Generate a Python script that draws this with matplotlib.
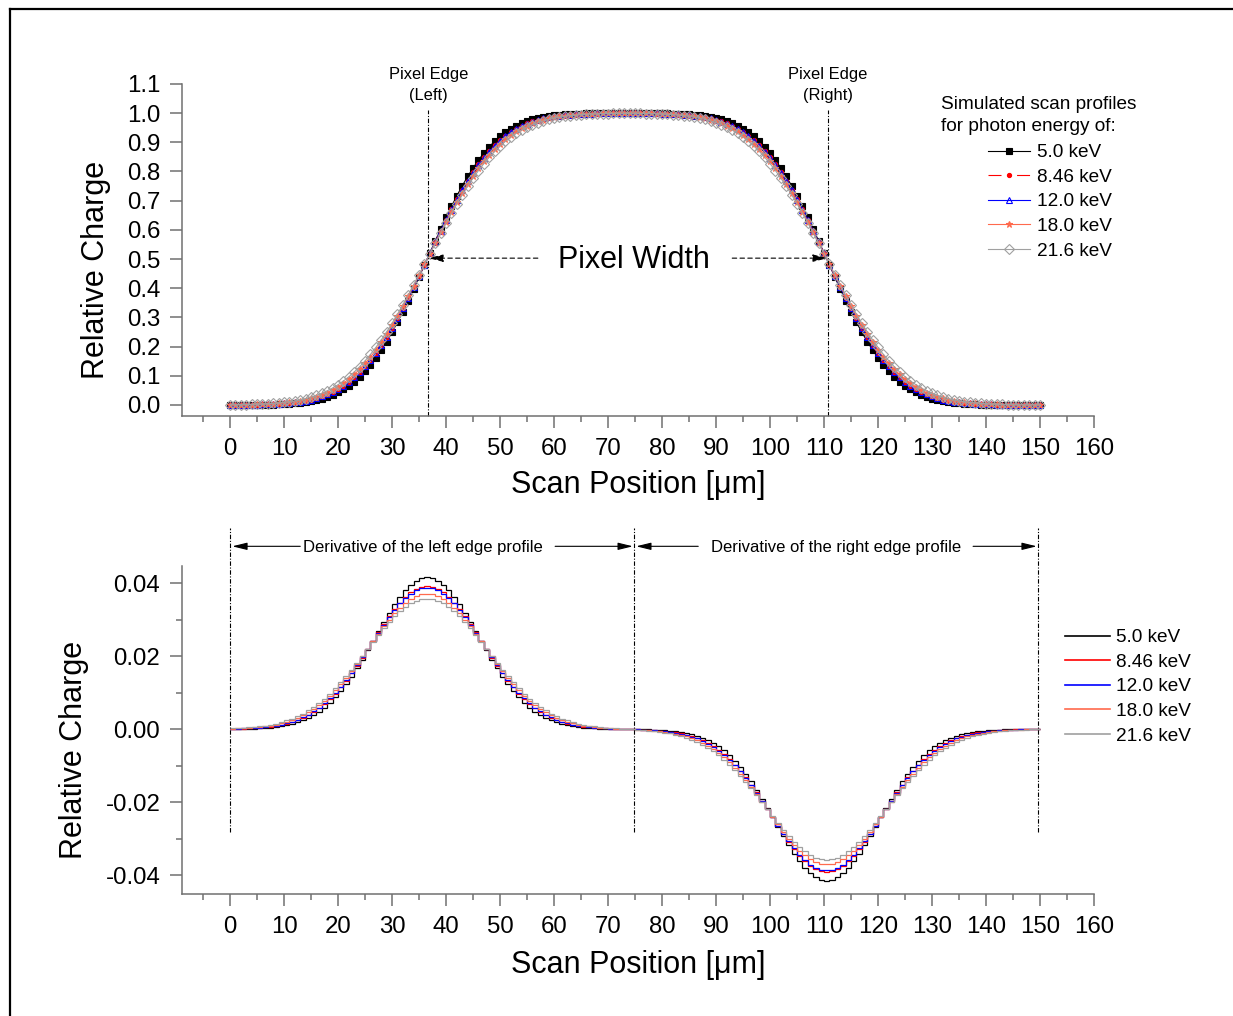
import numpy as np
import matplotlib
matplotlib.use("Agg")
import matplotlib.pyplot as plt
from matplotlib.lines import Line2D
from matplotlib.ticker import MultipleLocator, FormatStrFormatter

plt.rcParams['font.family'] = ['Liberation Sans', 'DejaVu Sans']
plt.rcParams['axes.unicode_minus'] = False

energies = ['5.0 keV', '8.46 keV', '12.0 keV', '18.0 keV', '21.6 keV']

# scan runs from 0 to 150 um in 1 um steps
scan_start, scan_stop = 0, 150

# relative charge at the first scan position
start_charge = [0.0, 0.0001, 0.0002, 0.0003, 0.0005]

# change of relative charge per 1 um step (derivative of the profile)
# left edge part: steps 0..74 um, right edge part: steps 74..150 um
d50_left = [0.00004, 0.00005, 0.00008, 0.00011, 0.00016, 0.00023, 0.00032, 0.00043, 0.00059, 0.00080,
            0.00106, 0.00140, 0.00183, 0.00236, 0.00301, 0.00380, 0.00474, 0.00586, 0.00717, 0.00866,
            0.01036, 0.01226, 0.01435, 0.01661, 0.01903, 0.02156, 0.02416, 0.02678, 0.02937, 0.03186,
            0.03419, 0.03629, 0.03810, 0.03958, 0.04067, 0.04134, 0.04156, 0.04134, 0.04067, 0.03958,
            0.03810, 0.03629, 0.03419, 0.03186, 0.02937, 0.02678, 0.02416, 0.02156, 0.01903, 0.01661,
            0.01435, 0.01226, 0.01036, 0.00866, 0.00717, 0.00586, 0.00474, 0.00380, 0.00301, 0.00236,
            0.00183, 0.00140, 0.00106, 0.00080, 0.00059, 0.00043, 0.00032, 0.00023, 0.00016, 0.00011,
            0.00008, 0.00004, 0.00003, 0.0]
d50_right = [-0.00003, -0.00004, -0.00008, -0.00011, -0.00016, -0.00023, -0.00032, -0.00043, -0.00059, -0.00080,
             -0.00106, -0.00140, -0.00183, -0.00236, -0.00301, -0.00380, -0.00474, -0.00586, -0.00717, -0.00866,
             -0.01036, -0.01226, -0.01435, -0.01661, -0.01903, -0.02156, -0.02416, -0.02678, -0.02937, -0.03186,
             -0.03419, -0.03629, -0.03810, -0.03958, -0.04067, -0.04134, -0.04156, -0.04134, -0.04067, -0.03958,
             -0.03810, -0.03629, -0.03419, -0.03186, -0.02937, -0.02678, -0.02416, -0.02156, -0.01903, -0.01661,
             -0.01435, -0.01226, -0.01036, -0.00866, -0.00717, -0.00586, -0.00474, -0.00380, -0.00301, -0.00236,
             -0.00183, -0.00140, -0.00106, -0.00080, -0.00059, -0.00043, -0.00032, -0.00023, -0.00016, -0.00011,
             -0.00008, -0.00005, -0.00004, -0.00002, -0.00001, -0.00001]

d846_left = [0.00008, 0.00011, 0.00015, 0.00021, 0.00029, 0.00039, 0.00052, 0.00069, 0.00090, 0.00118,
             0.00152, 0.00194, 0.00246, 0.00308, 0.00382, 0.00470, 0.00572, 0.00690, 0.00824, 0.00975,
             0.01143, 0.01326, 0.01525, 0.01736, 0.01958, 0.02187, 0.02419, 0.02650, 0.02876, 0.03091,
             0.03290, 0.03468, 0.03622, 0.03746, 0.03837, 0.03893, 0.03911, 0.03893, 0.03837, 0.03746,
             0.03622, 0.03468, 0.03290, 0.03091, 0.02876, 0.02650, 0.02419, 0.02187, 0.01958, 0.01736,
             0.01525, 0.01326, 0.01143, 0.00975, 0.00824, 0.00690, 0.00572, 0.00470, 0.00382, 0.00308,
             0.00246, 0.00194, 0.00152, 0.00118, 0.00090, 0.00069, 0.00052, 0.00039, 0.00028, 0.00020,
             0.00013, 0.00008, 0.00004, 0.0]
d846_right = [-0.00004, -0.00008, -0.00013, -0.00020, -0.00028, -0.00039, -0.00052, -0.00069, -0.00090, -0.00118,
              -0.00152, -0.00194, -0.00246, -0.00308, -0.00382, -0.00470, -0.00572, -0.00690, -0.00824, -0.00975,
              -0.01143, -0.01326, -0.01525, -0.01736, -0.01958, -0.02187, -0.02419, -0.02650, -0.02876, -0.03091,
              -0.03290, -0.03468, -0.03622, -0.03746, -0.03837, -0.03893, -0.03911, -0.03893, -0.03837, -0.03746,
              -0.03622, -0.03468, -0.03290, -0.03091, -0.02876, -0.02650, -0.02419, -0.02187, -0.01958, -0.01736,
              -0.01525, -0.01326, -0.01143, -0.00975, -0.00824, -0.00690, -0.00572, -0.00470, -0.00382, -0.00308,
              -0.00246, -0.00194, -0.00152, -0.00118, -0.00090, -0.00069, -0.00052, -0.00039, -0.00029, -0.00021,
              -0.00015, -0.00011, -0.00008, -0.00005, -0.00004, -0.00003]

d120_left = [0.00009, 0.00012, 0.00017, 0.00023, 0.00031, 0.00042, 0.00056, 0.00074, 0.00096, 0.00125,
             0.00160, 0.00204, 0.00257, 0.00320, 0.00396, 0.00485, 0.00588, 0.00707, 0.00841, 0.00992,
             0.01159, 0.01341, 0.01538, 0.01747, 0.01965, 0.02190, 0.02418, 0.02644, 0.02865, 0.03075,
             0.03269, 0.03443, 0.03592, 0.03712, 0.03801, 0.03855, 0.03873, 0.03855, 0.03801, 0.03712,
             0.03592, 0.03443, 0.03269, 0.03075, 0.02865, 0.02644, 0.02418, 0.02190, 0.01965, 0.01747,
             0.01538, 0.01341, 0.01159, 0.00992, 0.00841, 0.00707, 0.00588, 0.00485, 0.00396, 0.00320,
             0.00257, 0.00204, 0.00160, 0.00125, 0.00096, 0.00074, 0.00056, 0.00042, 0.00030, 0.00022,
             0.00015, 0.00009, 0.00005, 0.0]
d120_right = [-0.00005, -0.00009, -0.00015, -0.00022, -0.00030, -0.00042, -0.00056, -0.00074, -0.00096, -0.00125,
              -0.00160, -0.00204, -0.00257, -0.00320, -0.00396, -0.00485, -0.00588, -0.00707, -0.00841, -0.00992,
              -0.01159, -0.01341, -0.01538, -0.01747, -0.01965, -0.02190, -0.02418, -0.02644, -0.02865, -0.03075,
              -0.03269, -0.03443, -0.03592, -0.03712, -0.03801, -0.03855, -0.03873, -0.03855, -0.03801, -0.03712,
              -0.03592, -0.03443, -0.03269, -0.03075, -0.02865, -0.02644, -0.02418, -0.02190, -0.01965, -0.01747,
              -0.01538, -0.01341, -0.01159, -0.00992, -0.00841, -0.00707, -0.00588, -0.00485, -0.00396, -0.00320,
              -0.00257, -0.00204, -0.00160, -0.00125, -0.00096, -0.00074, -0.00056, -0.00042, -0.00031, -0.00023,
              -0.00017, -0.00012, -0.00009, -0.00006, -0.00004, -0.00003]

d180_left = [0.00014, 0.00019, 0.00025, 0.00033, 0.00044, 0.00058, 0.00076, 0.00098, 0.00125, 0.00158,
             0.00199, 0.00248, 0.00307, 0.00376, 0.00457, 0.00551, 0.00657, 0.00778, 0.00914, 0.01063,
             0.01226, 0.01402, 0.01589, 0.01786, 0.01990, 0.02199, 0.02408, 0.02614, 0.02813, 0.03002,
             0.03176, 0.03331, 0.03463, 0.03569, 0.03647, 0.03695, 0.03711, 0.03695, 0.03647, 0.03569,
             0.03463, 0.03331, 0.03176, 0.03002, 0.02813, 0.02614, 0.02408, 0.02199, 0.01990, 0.01786,
             0.01589, 0.01402, 0.01226, 0.01063, 0.00914, 0.00778, 0.00657, 0.00551, 0.00457, 0.00376,
             0.00307, 0.00248, 0.00199, 0.00158, 0.00125, 0.00098, 0.00076, 0.00057, 0.00042, 0.00030,
             0.00021, 0.00014, 0.00007, 0.0]
d180_right = [-0.00007, -0.00014, -0.00021, -0.00030, -0.00042, -0.00057, -0.00076, -0.00098, -0.00125, -0.00158,
              -0.00199, -0.00248, -0.00307, -0.00376, -0.00457, -0.00551, -0.00657, -0.00778, -0.00914, -0.01063,
              -0.01226, -0.01402, -0.01589, -0.01786, -0.01990, -0.02199, -0.02408, -0.02614, -0.02813, -0.03002,
              -0.03176, -0.03331, -0.03463, -0.03569, -0.03647, -0.03695, -0.03711, -0.03695, -0.03647, -0.03569,
              -0.03463, -0.03331, -0.03176, -0.03002, -0.02813, -0.02614, -0.02408, -0.02199, -0.01990, -0.01786,
              -0.01589, -0.01402, -0.01226, -0.01063, -0.00914, -0.00778, -0.00657, -0.00551, -0.00457, -0.00376,
              -0.00307, -0.00248, -0.00199, -0.00158, -0.00125, -0.00098, -0.00076, -0.00058, -0.00044, -0.00033,
              -0.00025, -0.00019, -0.00014, -0.00010, -0.00007, -0.00005]

d216_left = [0.00020, 0.00026, 0.00034, 0.00045, 0.00058, 0.00075, 0.00096, 0.00122, 0.00153, 0.00191,
             0.00236, 0.00290, 0.00353, 0.00426, 0.00511, 0.00607, 0.00716, 0.00838, 0.00972, 0.01119,
             0.01278, 0.01448, 0.01627, 0.01813, 0.02005, 0.02199, 0.02393, 0.02583, 0.02766, 0.02938,
             0.03096, 0.03236, 0.03355, 0.03451, 0.03521, 0.03564, 0.03578, 0.03564, 0.03521, 0.03451,
             0.03355, 0.03236, 0.03096, 0.02938, 0.02766, 0.02583, 0.02393, 0.02199, 0.02005, 0.01813,
             0.01627, 0.01448, 0.01278, 0.01119, 0.00972, 0.00838, 0.00716, 0.00607, 0.00511, 0.00426,
             0.00353, 0.00290, 0.00236, 0.00191, 0.00153, 0.00121, 0.00094, 0.00073, 0.00055, 0.00041,
             0.00028, 0.00018, 0.00009, 0.0]
d216_right = [-0.00009, -0.00018, -0.00028, -0.00041, -0.00055, -0.00073, -0.00094, -0.00121, -0.00153, -0.00191,
              -0.00236, -0.00290, -0.00353, -0.00426, -0.00511, -0.00607, -0.00716, -0.00838, -0.00972, -0.01119,
              -0.01278, -0.01448, -0.01627, -0.01813, -0.02005, -0.02199, -0.02393, -0.02583, -0.02766, -0.02938,
              -0.03096, -0.03236, -0.03355, -0.03451, -0.03521, -0.03564, -0.03578, -0.03564, -0.03521, -0.03451,
              -0.03355, -0.03236, -0.03096, -0.02938, -0.02766, -0.02583, -0.02393, -0.02199, -0.02005, -0.01813,
              -0.01627, -0.01448, -0.01278, -0.01119, -0.00972, -0.00838, -0.00716, -0.00607, -0.00511, -0.00426,
              -0.00353, -0.00290, -0.00236, -0.00191, -0.00153, -0.00122, -0.00096, -0.00075, -0.00058, -0.00045,
              -0.00034, -0.00026, -0.00020, -0.00015, -0.00011, -0.00008]

left_parts = [d50_left, d846_left, d120_left, d180_left, d216_left]
right_parts = [d50_right, d846_right, d120_right, d180_right, d216_right]

# pixel edges and section borders (um)
edge_left, edge_right = 36.7, 110.7
section_borders = [0, 74.8, 149.6]

# styles
colors = ['black', '#ff0000', '#0000ff', '#ff6a4d', '#a0a0a0']
markers = ['s', 'o', '^', '*', 'D']
msizes = [3.8, 3.0, 4.6, 4.6, 5.4]
mfaces = ['black', '#ff0000', 'none', '#ff6a4d', 'none']
lstyles = ['-', (0, (11.7, 14.0)), '-', '-', '-']
grey = '#707070'

fig = plt.figure(figsize=(12.33, 10.16), dpi=100)
ax1 = fig.add_axes([0.1476, 0.5906, 0.7397, 0.3268])
ax2 = fig.add_axes([0.1476, 0.1201, 0.7397, 0.3228])

pos = np.arange(scan_start, scan_stop + 1)
profile_handles = []
for k in range(len(energies)):
    slope = np.concatenate([left_parts[k], right_parts[k]])
    prof = np.concatenate([[start_charge[k]], start_charge[k] + np.cumsum(slope)])
    h, = ax1.plot(pos, prof, color=colors[k], lw=0.8, ls=lstyles[k], marker=markers[k],
                  ms=msizes[k], mfc=mfaces[k], mec=colors[k], mew=0.8, label=energies[k])
    profile_handles.append(h)
    ax2.stairs(slope, pos, baseline=None, color=colors[k], lw=0.9)

for ax in (ax1, ax2):
    for s in ('top', 'right'):
        ax.spines[s].set_visible(False)
    for s in ('left', 'bottom'):
        ax.spines[s].set_color(grey)
        ax.spines[s].set_linewidth(1.1)
    ax.set_xlim(-8.9, 160)
    ax.xaxis.set_major_locator(MultipleLocator(10))
    ax.xaxis.set_minor_locator(MultipleLocator(5))
    ax.tick_params(which='major', length=8.6, width=1.1, color=grey, labelsize=17.3, pad=7)
    ax.tick_params(which='minor', length=4.3, width=1.1, color=grey)
    ax.set_xlabel('Scan Position [\u03bcm]', fontsize=22)
    ax.set_ylabel('Relative Charge', fontsize=22)
    ax.patch.set_visible(False)

ax1.set_ylim(-0.0377, 1.1)
ax1.set_yticks(np.arange(0, 1.11, 0.1))
ax1.yaxis.set_major_formatter(FormatStrFormatter('%.1f'))
ax1.xaxis.set_label_coords(0.5, -0.163)
ax1.yaxis.set_label_coords(-0.078, 0.44)

ax2.set_ylim(-0.0452, 0.0447)
ax2.set_yticks([-0.04, -0.02, 0.0, 0.02, 0.04])
ax2.yaxis.set_minor_locator(MultipleLocator(0.01))
ax2.yaxis.set_major_formatter(FormatStrFormatter('%.2f'))
ax2.xaxis.set_label_coords(0.5, -0.170)
ax2.yaxis.set_label_coords(-0.102, 0.439)

dashdot = (0, (4, 1.5, 1, 1.5))

# top panel annotations
for x, txt in ((edge_left, 'Pixel Edge\n(Left)'), (edge_right, 'Pixel Edge\n(Right)')):
    ax1.plot([x, x], [-0.0377, 1.01], color='black', lw=0.8, ls=dashdot, clip_on=False)
    ax1.text(x, 1.035, txt, ha='center', va='bottom', fontsize=11.9, linespacing=1.5)

ax1.text(74.8, 0.469, 'Pixel Width', ha='center', va='baseline', fontsize=22)
arrow_kw = dict(arrowstyle='-|>,head_length=0.9,head_width=0.22', color='black', lw=0.8,
                shrinkA=0, shrinkB=0)
ax1.annotate('', xy=(edge_left, 0.503), xytext=(57.0, 0.503),
             arrowprops=dict(arrow_kw, ls=(0, (4, 3))))
ax1.annotate('', xy=(edge_right, 0.503), xytext=(93.0, 0.503),
             arrowprops=dict(arrow_kw, ls=(0, (4, 3))))

# bottom panel annotations
for x in section_borders:
    ax2.plot([x, x], [-0.0282, 0.0551], color='black', lw=0.8, ls=dashdot, clip_on=False)
ax2.text(35.7, 0.0486, 'Derivative of the left edge profile', ha='center', va='baseline', fontsize=12)
ax2.text(112.2, 0.0486, 'Derivative of the right edge profile', ha='center', va='baseline', fontsize=12)
for tail, tip in ((13.0, 0.4), (60.2, 74.6), (86.7, 75.2), (137.6, 149.4)):
    ax2.annotate('', xy=(tip, 0.0501), xytext=(tail, 0.0501),
                 arrowprops=arrow_kw, annotation_clip=False)

# legends
fig.text(941 / 1233, 1 - 115.5 / 1016, 'Simulated scan profiles\nfor photon energy of:',
         ha='left', va='center', fontsize=13.7, linespacing=1.45)
ax1.legend(handles=profile_handles, loc='upper left', bbox_to_anchor=(988 / 1233, 1 - 144 / 1016),
           bbox_transform=fig.transFigure, frameon=False, fontsize=13.7, borderpad=0,
           borderaxespad=0, handlelength=2.2, handletextpad=0.35, labelspacing=0.38)

line_handles = [Line2D([], [], color=c, lw=1.2) for c in colors]
ax2.legend(line_handles, energies, loc='upper left', bbox_to_anchor=(1065 / 1233, 1 - 629 / 1016),
           bbox_transform=fig.transFigure, frameon=False, fontsize=13.7, borderpad=0,
           borderaxespad=0, handlelength=2.37, handletextpad=0.3, labelspacing=0.38)

# outer frame
fig.add_artist(Line2D([10 / 1233, 10 / 1233], [0, 1 - 9 / 1016], transform=fig.transFigure,
                      color='black', lw=1.6))
fig.add_artist(Line2D([10 / 1233, 1], [1 - 9 / 1016, 1 - 9 / 1016], transform=fig.transFigure,
                      color='black', lw=1.6))

fig.savefig('out.png', dpi=100)
